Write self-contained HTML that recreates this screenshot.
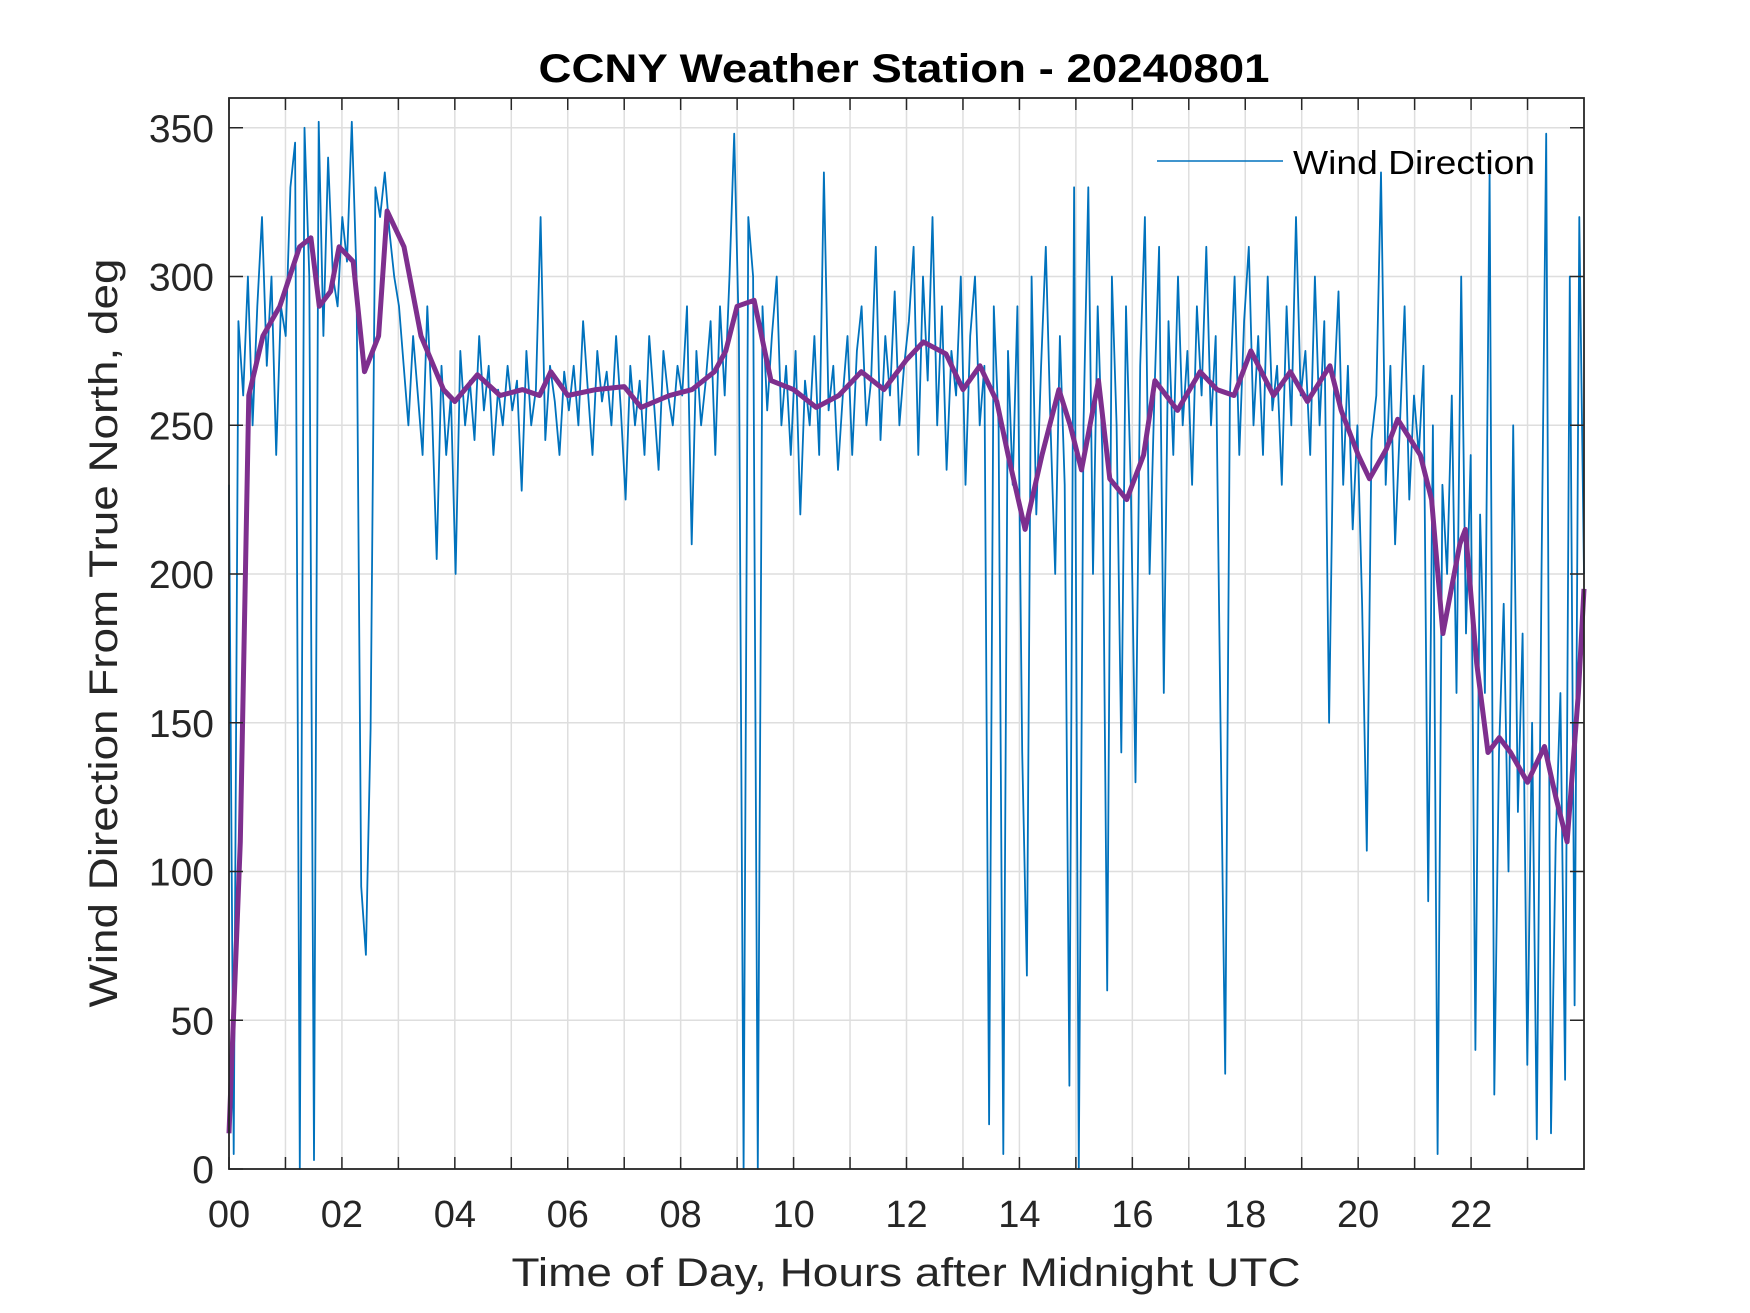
<!DOCTYPE html>
<html><head><meta charset="utf-8"><style>
html,body{margin:0;padding:0;background:#fff;}
svg{display:block;font-family:"Liberation Sans",Arial,sans-serif;}
</style></head><body>
<svg id="chart" width="1750" height="1313" viewBox="0 0 1750 1313">
<rect width="1750" height="1313" fill="#fff"/>
<g id="grid"></g>
<g id="series"></g>
<g id="axes"></g>
<text x="904" y="82" text-anchor="middle" font-size="40" font-weight="bold" textLength="731" lengthAdjust="spacingAndGlyphs" fill="#000">CCNY Weather Station - 20240801</text>
<text x="906" y="1286" text-anchor="middle" font-size="40" textLength="789" lengthAdjust="spacingAndGlyphs" fill="#262626">Time of Day, Hours after Midnight UTC</text>
<text transform="translate(117,633) rotate(-90)" text-anchor="middle" font-size="40" textLength="749" lengthAdjust="spacingAndGlyphs" fill="#262626">Wind Direction From True North, deg</text>
<g>
<line x1="1157" y1="161" x2="1283" y2="161" stroke="#0072BD" stroke-width="1.6"/>
<text x="1293" y="174" font-size="33" textLength="242" lengthAdjust="spacingAndGlyphs" fill="#000">Wind Direction</text>
</g>
</svg>
<script>
const xTicks = [0,2,4,6,8,10,12,14,16,18,20,22];
const xTickLabels = ["00","02","04","06","08","10","12","14","16","18","20","22"];
const yTicks = [0,50,100,150,200,250,300,350];
const windDir = [
230,5,285,260,300,250,290,320,270,300,240,290,
280,330,345,0,350,300,3,352,280,340,300,290,
320,305,352,300,95,72,148,330,320,335,315,300,
290,270,250,280,260,240,290,255,205,270,240,260,
200,275,250,265,245,280,255,270,240,262,250,270,
255,265,228,275,250,262,320,245,270,258,240,268,
255,270,250,285,262,240,275,258,268,250,280,255,
225,270,250,265,240,280,258,235,275,260,250,270,
260,290,210,275,250,265,285,240,290,260,300,348,
280,0,320,300,0,290,255,280,300,250,270,240,
275,220,265,250,280,240,335,255,270,235,260,280,
240,275,290,250,265,310,245,280,260,295,250,270,
285,310,240,300,265,320,250,290,235,275,260,300,
230,280,300,250,270,15,290,250,5,275,230,290,
140,65,300,220,270,310,250,200,280,230,28,330,
0,250,330,200,290,240,60,300,250,140,290,230,
130,270,320,200,260,310,160,285,240,300,250,275,
230,290,260,310,250,280,150,32,260,300,240,285,
310,250,280,240,300,255,270,230,290,250,320,260,
275,240,300,250,285,150,260,295,230,270,215,250,
190,107,245,260,335,230,270,210,250,290,225,260,
240,270,90,250,5,230,200,260,160,300,180,240,
40,220,160,335,25,140,190,100,250,120,180,35,
150,10,200,348,12,110,160,30,300,55,320,200];
const avgHours = [0,0.2,0.35,0.6,0.9,1.25,1.45,1.6,1.8,1.95,2.2,2.4,2.65,2.8,3.1,3.4,3.8,4.0,4.4,4.8,5.2,5.5,5.7,6.0,6.5,7.0,7.3,7.8,8.2,8.6,8.8,9.0,9.3,9.6,10,10.4,10.8,11.2,11.6,12.0,12.3,12.7,13.0,13.3,13.6,13.8,14.1,14.4,14.7,14.9,15.1,15.4,15.6,15.9,16.2,16.4,16.8,17.2,17.5,17.8,18.1,18.5,18.8,19.1,19.5,19.7,20.0,20.2,20.5,20.7,21.1,21.3,21.5,21.8,21.9,22.1,22.3,22.5,22.7,23.0,23.3,23.5,23.7,23.9,24.0];
const avgDir = [12,110,260,280,290,310,313,290,295,310,305,268,280,322,310,280,262,258,267,260,262,260,268,260,262,263,256,260,262,268,275,290,292,265,262,256,260,268,262,272,278,274,262,270,258,240,215,240,262,250,235,265,232,225,240,265,255,268,262,260,275,260,268,258,270,255,240,232,242,252,240,225,180,210,215,170,140,145,140,130,142,125,110,160,195];

const L=229,R=1584,T=98,B=1169;
const X=h=>L+(h/24)*(R-L);
const Y=v=>B-(v/360)*(B-T);
const NS="http://www.w3.org/2000/svg";
function mk(tag,attrs,parent){const e=document.createElementNS(NS,tag);for(const k in attrs)e.setAttribute(k,attrs[k]);parent.appendChild(e);return e;}
const grid=document.getElementById('grid'),axes=document.getElementById('axes'),series=document.getElementById('series');
xTicks.forEach((t,i)=>{
  const g=mk('line',{x1:X(t),x2:X(t),y1:T,y2:B,stroke:'#dedede','stroke-width':1.5},grid);
  
  
  const lab=mk('text',{x:X(t),y:B+58,'text-anchor':'middle','font-size':38,fill:'#262626'},axes);
  lab.textContent=xTickLabels[i];
  
  
  mk('line',{x1:X(t),x2:X(t),y1:B,y2:B-12,stroke:'#262626','stroke-width':1.5},axes);
  mk('line',{x1:X(t),x2:X(t),y1:T,y2:T+12,stroke:'#262626','stroke-width':1.5},axes);
});
for(let h=1;h<24;h+=2){
  const g=mk('line',{x1:X(h),x2:X(h),y1:T,y2:B,stroke:'#dedede','stroke-width':1.5},grid);
  
  
  mk('line',{x1:X(h),x2:X(h),y1:B,y2:B-12,stroke:'#262626','stroke-width':1.5},axes);
  mk('line',{x1:X(h),x2:X(h),y1:T,y2:T+12,stroke:'#262626','stroke-width':1.5},axes);
}
yTicks.forEach(t=>{
  const g=mk('line',{x1:L,x2:R,y1:Y(t),y2:Y(t),stroke:'#dedede','stroke-width':1.5},grid);
  
  
  const lab=mk('text',{x:L-15,y:Y(t)+14,'text-anchor':'end','font-size':39,fill:'#262626'},axes);
  lab.textContent=String(t);
  
  
  mk('line',{x1:L,x2:L+14,y1:Y(t),y2:Y(t),stroke:'#262626','stroke-width':1.5},axes);
  mk('line',{x1:R,x2:R-14,y1:Y(t),y2:Y(t),stroke:'#262626','stroke-width':1.5},axes);
});
const frame=mk('rect',{x:L,y:T,width:R-L,height:B-T,fill:'none',stroke:'#262626','stroke-width':1.8},axes);


const n=windDir.length;
const bp=windDir.map((v,i)=>X(i*24/(n-1)).toFixed(1)+','+Y(v).toFixed(1)).join(' ');
const blue=mk('polyline',{points:bp,fill:'none',stroke:'#0072BD','stroke-width':1.8,'stroke-linejoin':'round'},series);


const pp=avgHours.map((h,i)=>X(h).toFixed(1)+','+Y(avgDir[i]).toFixed(1)).join(' ');
const purple=mk('polyline',{points:pp,fill:'none',stroke:'#7E2F8E','stroke-width':5,'stroke-linejoin':'round'},series);


</script>
</body></html>
